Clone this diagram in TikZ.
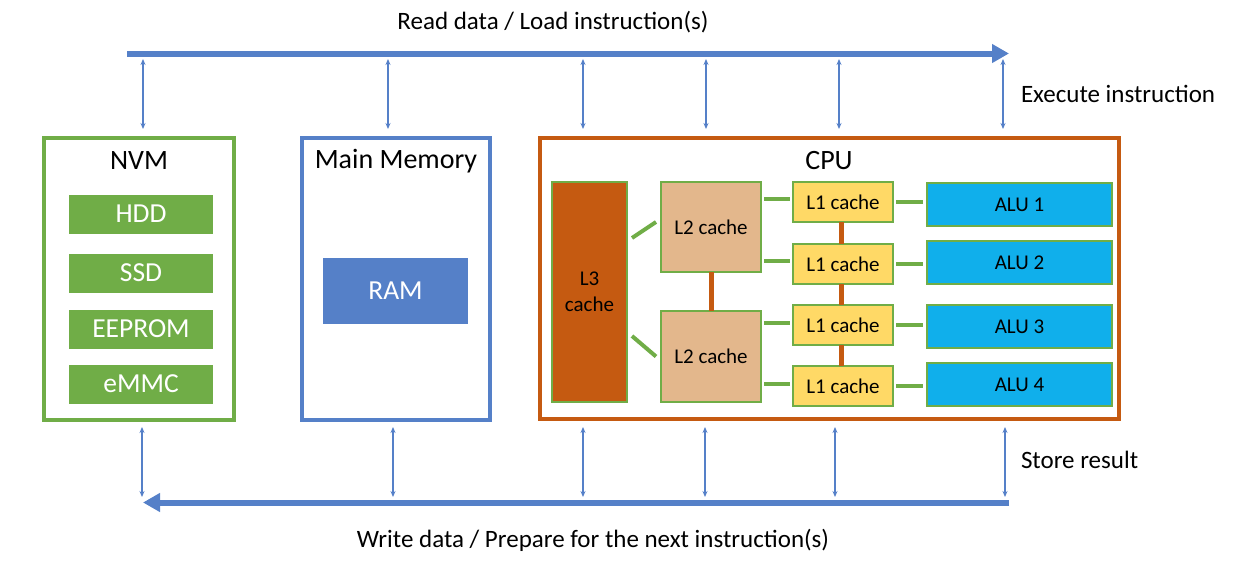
\documentclass[tikz,border=0pt]{standalone}
\usepackage{fontspec}
\setmainfont{Carlito}
\usepackage{tikz}
\definecolor{NvmGreen}{HTML}{70AD47}
\definecolor{BusBlue}{HTML}{5580C8}
\definecolor{CpuOrange}{HTML}{C55A11}
\definecolor{LtwoTan}{HTML}{E3B78C}
\definecolor{LoneGold}{HTML}{FFD966}
\definecolor{AluBlue}{HTML}{10AFEB}
\usetikzlibrary{
	positioning,
	calc,
	arrows.meta
}

\begin{document}
\begin{tikzpicture}[
		x=1pt, y=-1pt,
		every node/.style={inner sep=0pt, outer sep=0pt},
		framed/.style={draw, line width=3.5pt, anchor=north west},
		title/.style={font=\fontsize{28}{33}\selectfont},
		storage/.style={fill=NvmGreen, text=white, minimum width=144pt, minimum height=39pt, font=\fontsize{27.5}{32}\selectfont},
		cachebox/.style={draw=NvmGreen, line width=1.5pt, align=center, font=\fontsize{21}{26}\selectfont},
		alubox/.style={cachebox, fill=AluBlue, minimum width=185pt, minimum height=43pt},
		glink/.style={draw=NvmGreen, line width=4pt},
		olink/.style={draw=CpuOrange, line width=5pt},
		bus/.style={draw=BusBlue, line width=6pt, -{Triangle[length=17pt, width=18pt]}},
		io/.style={draw=BusBlue, line width=1.5pt, {Stealth[length=6pt, width=5pt]}-{Stealth[length=6pt, width=5pt]}},
		note/.style={font=\fontsize{25}{30}\selectfont}
	]
		\useasboundingbox (0,0) rectangle (1250,565);

		% the three blocks
		\node[framed, draw=NvmGreen, minimum width=190pt, minimum height=282pt] at (44,138) (nvm) {};
		\node[framed, draw=BusBlue, line width=4pt, minimum width=188pt, minimum height=282pt] at (302,138) (mem) {};
		\node[framed, draw=CpuOrange, minimum width=579pt, minimum height=281pt] at (540,138) (cpu) {};

		\node[title] at ([yshift=-23pt]nvm.north) (nvmtitle) {NVM};
		\node[title] at ([yshift=-23pt]mem.north) (memtitle) {Main Memory};
		\node[title] at ([xshift=-0.5pt, yshift=-23pt]cpu.north) (cputitle) {CPU};

		\foreach \name/\y [count=\i] in {HDD/214, SSD/273, EEPROM/329, eMMC/384}
			\node[storage] at (141,\y) (st\i) {\name};

		\node[fill=BusBlue, text=white, minimum width=145pt, minimum height=66pt, font=\fontsize{27.5}{32}\selectfont] at (395.5,291) (ram) {RAM};

		% cache hierarchy
		\node[cachebox, fill=CpuOrange, minimum width=75pt, minimum height=220pt] at (589.5,292) (lthree) {L3\\cache};
		\node[cachebox, fill=LtwoTan, minimum width=100pt, minimum height=90pt] at (711,227) (ltwoa) {L2 cache};
		\node[cachebox, fill=LtwoTan, minimum width=100pt, minimum height=91pt] at (711,356.5) (ltwob) {L2 cache};

		\foreach \y [count=\i] in {202,264,325,386}
			\node[cachebox, fill=LoneGold, minimum width=100pt, minimum height=40pt] at (843,\y) (lone\i) {L1 cache};
		\foreach \y [count=\i] in {204.5,262.5,326.5,384.5}
			\node[alubox] at (1019.5,\y) (alu\i) {ALU \i};

		\draw[glink] ($(lthree.east)+(5,-54)$) -- ($(ltwoa.west)+(-5,-5)$);
		\draw[glink] ($(lthree.east)+(5,44)$) -- ($(ltwob.west)+(-5,0)$);
		\draw[olink] (ltwoa.south) -- (ltwob.north);
		\foreach \i in {1,2} \draw[glink] ($(ltwoa.east |- lone\i.west)+(3,-3)$) -- ($(lone\i.west)+(-3,-3)$);
		\foreach \i in {3,4} \draw[glink] ($(ltwob.east |- lone\i.west)+(3,-2)$) -- ($(lone\i.west)+(-3,-2)$);
		\foreach \i/\j in {1/2,2/3,3/4} \draw[olink] ([xshift=-2pt]lone\i.south) -- ([xshift=-2pt]lone\j.north);
		\foreach \i in {1,...,4} \draw[glink] ($(lone\i.east)+(3,0)$) -- ($(lone\i.east -| alu\i.west)+(-4,0)$);

		% buses
		\coordinate (rdA) at (127,53.5);
		\coordinate (rdB) at (1009,53.5);
		\coordinate (wrA) at (1009,502.5);
		\coordinate (wrB) at (143,502.5);
		\draw[bus] (rdA) -- (rdB);
		\draw[bus] (wrA) -- (wrB);

		\foreach \x [count=\i] in {143,388,583,706,839,1003} {
			\coordinate (rt\i) at (\x,59);
			\coordinate (rb\i) at (\x,129);
			\draw[io] (rt\i) -- (rb\i);
		}
		\foreach \x [count=\i] in {142,393,583,705,835,1005} {
			\coordinate (wt\i) at (\x,427);
			\coordinate (wb\i) at (\x,497);
			\draw[io] (wt\i) -- (wb\i);
		}

		\node[note] at (553,22) (rdnote) {Read data / Load instruction(s)};
		\node[note] at (593,540) (wrnote) {Write data / Prepare for the next instruction(s)};
		\path (rt6) -- (rb6) node[note, midway, anchor=west, xshift=18pt] (exec) {Execute instruction};
		\path (wt6) -- (wb6) node[note, midway, anchor=west, xshift=16pt, yshift=2pt] (store) {Store result};

	\end{tikzpicture}
\end{document}
